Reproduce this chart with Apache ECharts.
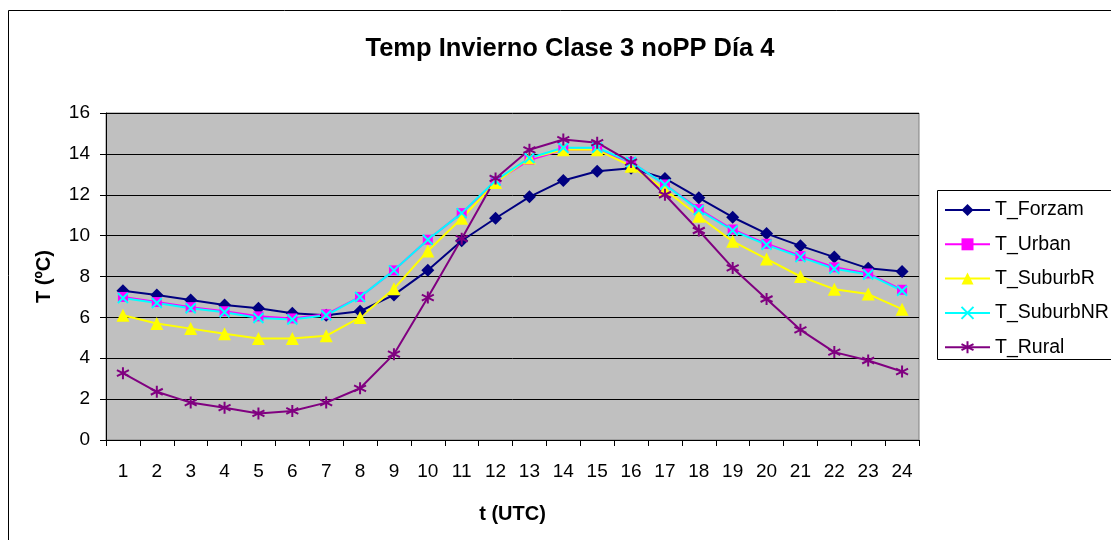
<!DOCTYPE html>
<html>
<head>
<meta charset="utf-8">
<script src="https://cdn.jsdelivr.net/npm/echarts@6/dist/echarts.min.js"></script>
<style>
  html, body { margin: 0; padding: 0; background: #fff; }
  #chart { width: 1111px; height: 540px; }
</style>
</head>
<body>
<div id="chart"></div>
<script>
// Hourly winter temperatures (ºC), class 3, no precipitation, day 4
const hours = ['1','2','3','4','5','6','7','8','9','10','11','12','13','14','15','16','17','18','19','20','21','22','23','24'];
const tForzam    = [7.3, 7.1, 6.85, 6.6, 6.45, 6.2, 6.1, 6.3, 7.1, 8.3, 9.75, 10.85, 11.9, 12.7, 13.15, 13.3, 12.8, 11.85, 10.9, 10.1, 9.5, 8.95, 8.4, 8.25];
const tUrban     = [7.0, 6.75, 6.5, 6.3, 6.05, 5.95, 6.15, 7.0, 8.3, 9.8, 11.1, 12.65, 13.7, 14.2, 14.2, 13.6, 12.5, 11.3, 10.3, 9.6, 9.0, 8.45, 8.15, 7.35];
const tSuburbR   = [6.1, 5.7, 5.45, 5.2, 4.97, 4.97, 5.1, 6.0, 7.4, 9.25, 10.85, 12.6, 13.8, 14.2, 14.2, 13.4, 12.25, 10.95, 9.72, 8.86, 8.0, 7.38, 7.14, 6.4];
const tSuburbNR  = [6.95, 6.7, 6.45, 6.25, 5.97, 5.9, 6.1, 7.0, 8.3, 9.8, 11.1, 12.7, 13.8, 14.3, 14.3, 13.6, 12.5, 11.25, 10.25, 9.55, 8.95, 8.38, 8.1, 7.3];
const tRural     = [3.27, 2.36, 1.83, 1.58, 1.3, 1.42, 1.83, 2.53, 4.2, 6.97, 9.85, 12.8, 14.2, 14.7, 14.55, 13.6, 12.0, 10.25, 8.42, 6.9, 5.39, 4.3, 3.89, 3.35];
const yTicks = { min: 0, max: 16, step: 2 };

const FONT = 'Liberation Sans, Arial, sans-serif';

// stroke-only glyphs for the cross and asterisk markers
const crossPath = 'path://M0,0L10,10M10,0L0,10';
const starPath  = 'path://M5,0L5,10M0,2.5L10,7.5M10,2.5L0,7.5';

function lineSeries(name, data, color, symbol, size, strokeOnly) {
  return {
    name: name,
    type: 'line',
    data: data,
    symbol: symbol,
    symbolSize: size,
    showAllSymbol: true,
    lineStyle: { color: color, width: 2 },
    itemStyle: strokeOnly
      ? { color: 'rgba(0,0,0,0)', borderColor: color, borderWidth: 2 }
      : { color: color, borderWidth: 0 },
    emphasis: { disabled: true },
    animation: false
  };
}

const chart = echarts.init(document.getElementById('chart'));
chart.setOption({
  backgroundColor: '#ffffff',
  animation: false,
  title: {
    text: 'Temp Invierno Clase 3 noPP Día 4',
    left: 565, top: 31, textAlign: 'center',
    textStyle: { fontFamily: FONT, fontSize: 25.5, fontWeight: 'bold', color: '#000' }
  },
  graphic: [
    { type: 'rect', shape: { x: 8.5, y: 10.5, width: 1300, height: 700 },
      style: { fill: 'none', stroke: '#000', lineWidth: 1 }, silent: true, z: -1 },
    { type: 'rect', shape: { x: 937.5, y: 190.5, width: 300, height: 169 },
      style: { fill: '#fff', stroke: '#000', lineWidth: 1 }, silent: true, z: 0 }
  ],
  legend: {
    orient: 'vertical',
    left: 944, top: 200,
    padding: 0,
    itemWidth: 45, itemHeight: 15, itemGap: 14.3,
    textStyle: { fontFamily: FONT, fontSize: 19.5, color: '#000' },
    z: 5
  },
  grid: {
    left: 106, top: 113, width: 813, height: 327,
    show: true, backgroundColor: '#C0C0C0', borderColor: '#808080', borderWidth: 1
  },
  xAxis: {
    type: 'category',
    data: hours,
    boundaryGap: true,
    name: 't (UTC)',
    nameLocation: 'middle',
    nameGap: 64,
    nameTextStyle: { fontFamily: FONT, fontSize: 20, fontWeight: 'bold', color: '#000' },
    axisLine: { lineStyle: { color: '#000', width: 1 } },
    axisTick: { show: true, interval: 0, length: 6, lineStyle: { color: '#000' } },
    axisLabel: { interval: 0, margin: 22, fontFamily: FONT, fontSize: 19, color: '#000' },
    splitLine: { show: false }
  },
  yAxis: {
    type: 'value',
    min: yTicks.min, max: yTicks.max, interval: yTicks.step,
    name: 'T (ºC)',
    nameLocation: 'middle',
    nameGap: 52,
    nameRotate: 90,
    nameTextStyle: { fontFamily: FONT, fontSize: 20, fontWeight: 'bold', color: '#000' },
    axisLine: { show: true, lineStyle: { color: '#000', width: 1 } },
    axisTick: { show: true, length: 6, lineStyle: { color: '#000' } },
    axisLabel: { margin: 16, fontFamily: FONT, fontSize: 19, color: '#000' },
    splitLine: { show: true, lineStyle: { color: '#000', width: 1 } }
  },
  series: [
    lineSeries('T_Forzam', tForzam, '#000080', 'diamond', 13, false),
    lineSeries('T_Urban', tUrban, '#FF00FF', 'rect', 10, false),
    lineSeries('T_SuburbR', tSuburbR, '#FFFF00', 'triangle', 13, false),
    lineSeries('T_SuburbNR', tSuburbNR, '#00FFFF', crossPath, 10, true),
    lineSeries('T_Rural', tRural, '#800080', starPath, 12, true)
  ]
});
</script>
</body>
</html>
